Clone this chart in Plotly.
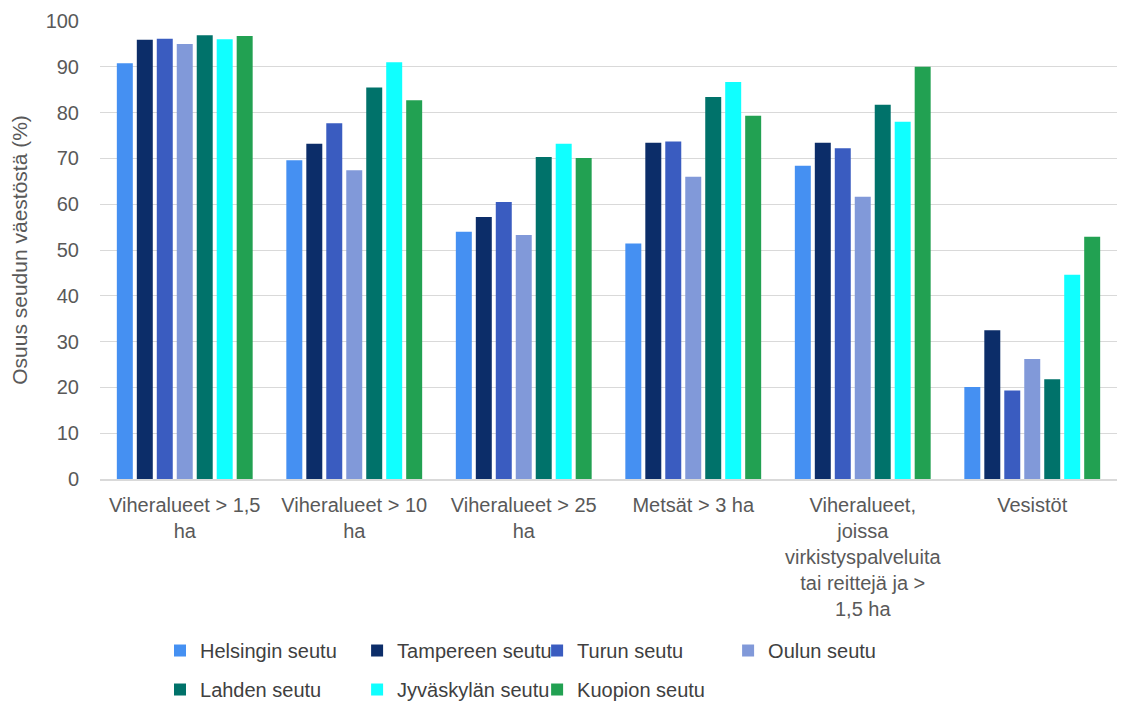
import plotly.graph_objects as go

categories = [
    "Viheralueet > 1,5<br>ha",
    "Viheralueet > 10<br>ha",
    "Viheralueet > 25<br>ha",
    "Metsät > 3 ha",
    "Viheralueet,<br>joissa<br>virkistyspalveluita<br>tai reittejä ja ><br>1,5 ha",
    "Vesistöt",
]

helsinki = [90.8, 69.6, 54.0, 51.4, 68.4, 20.1]
tampere = [95.9, 73.2, 57.2, 73.4, 73.4, 32.5]
turku = [96.1, 77.7, 60.5, 73.7, 72.2, 19.3]
oulu = [95.0, 67.4, 53.3, 66.0, 61.6, 26.2]
lahti = [96.9, 85.5, 70.3, 83.4, 81.7, 21.8]
jyvaskyla = [96.0, 91.0, 73.2, 86.7, 78.0, 44.6]
kuopio = [96.7, 82.7, 70.1, 79.3, 90.0, 52.9]

y_ticks = [0, 10, 20, 30, 40, 50, 60, 70, 80, 90, 100]

# name, values, colour, legend column
series = [
    ("Helsingin seutu", helsinki, "#4590f2", "legend"),
    ("Tampereen seutu", tampere, "#0c2d69", "legend2"),
    ("Turun seutu", turku, "#3a5cc0", "legend3"),
    ("Oulun seutu", oulu, "#8199d9", "legend4"),
    ("Lahden seutu", lahti, "#00726a", "legend"),
    ("Jyväskylän seutu", jyvaskyla, "#10ffff", "legend2"),
    ("Kuopion seutu", kuopio, "#22a152", "legend3"),
]

font = "Liberation Sans, Arial, sans-serif"
grey = "#595959"

fig = go.Figure()
for i, (name, vals, color, leg) in enumerate(series):
    fig.add_trace(
        go.Bar(
            x=categories,
            y=vals,
            name=name,
            marker=dict(color=color, line_width=0),
            legend=leg,
            legendgroup=f"g{i}",
        )
    )

legend_common = dict(
    orientation="v",
    yanchor="top",
    y=-0.3319,
    xanchor="left",
    tracegroupgap=10,
    font=dict(family=font, size=20, color="#404040"),
    bgcolor="rgba(0,0,0,0)",
    itemclick=False,
)

# page has an 8px body margin, so the figure is sized to fit the window
fig.update_layout(
    width=1118,
    height=694,
    paper_bgcolor="white",
    plot_bgcolor="white",
    margin=dict(l=92, r=9, t=13, b=223, autoexpand=False),
    barmode="group",
    bargap=0.175,
    bargroupgap=0.2,
    font=dict(family=font, size=20, color=grey),
    xaxis=dict(
        showgrid=False,
        showline=True,
        linecolor="#d9d9d9",
        linewidth=1.5,
        tickfont=dict(size=20, color=grey),
        ticklabelstandoff=7,
    ),
    yaxis=dict(
        range=[0, 100],
        tickvals=y_ticks,
        showgrid=True,
        gridcolor="#d9d9d9",
        gridwidth=1.2,
        zeroline=False,
        tickfont=dict(size=20, color=grey),
        ticklabelstandoff=20,
        title=dict(text="Osuus seudun väestöstä (%)", font=dict(size=21, color=grey), standoff=16),
    ),
    legend=dict(legend_common, x=0.059),
    legend2=dict(legend_common, x=0.2528),
    legend3=dict(legend_common, x=0.4298),
    legend4=dict(legend_common, x=0.6176),
    showlegend=True,
)

fig.write_html("out.html")
